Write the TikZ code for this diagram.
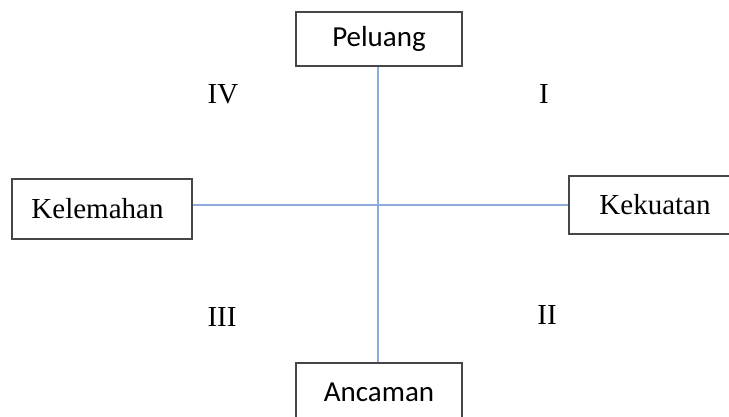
\documentclass[tikz,border=0pt]{standalone}
\usepackage{fontspec}
\setmainfont{Liberation Serif}
\newfontfamily\calib{Carlito}
\definecolor{axisblue}{RGB}{143,170,220}
\definecolor{boxgray}{RGB}{70,70,70}
\begin{document}
\begin{tikzpicture}[x=1pt,y=-1pt,
  box/.style={draw=boxgray,line width=1.6pt,fill=white,inner sep=0pt,font=\fontsize{29}{32}\selectfont},
  sbox/.style={box,font=\calib\fontsize{29}{32}\selectfont},
  quad/.style={inner sep=0pt,font=\fontsize{29}{32}\selectfont},
  axis/.style={draw=axisblue,line width=1.8pt}]
\useasboundingbox (0,0) rectangle (729,416);
\clip (0,0) rectangle (729,416);
\coordinate (c) at (378,205);
\node[sbox,minimum width=166pt,minimum height=54pt] (pel) at (379,39) {Peluang};
\node[sbox,minimum width=166pt,minimum height=56pt,text depth=0pt] (anc) at (379,391) {\raisebox{-2pt}{Ancaman}};
\node[box,minimum width=180pt,minimum height=60pt] (kel) at (102,209) {\hspace*{-9pt}Kelemahan};
\node[box,minimum width=174pt,minimum height=58pt] (kek) at (656,205) {\hspace*{-2pt}Kekuatan};
\draw[axis] (pel.south -| c) -- (anc.north -| c);
\draw[axis] (kel.east |- c) -- (kek.west |- c);
\node[quad] (q4) at (223,94) {IV};
\node[quad] (q1) at (544,94) {I};
\node[quad] (q3) at (222,317) {III};
\node[quad] (q2) at (547,315) {II};
\end{tikzpicture}
\end{document}
